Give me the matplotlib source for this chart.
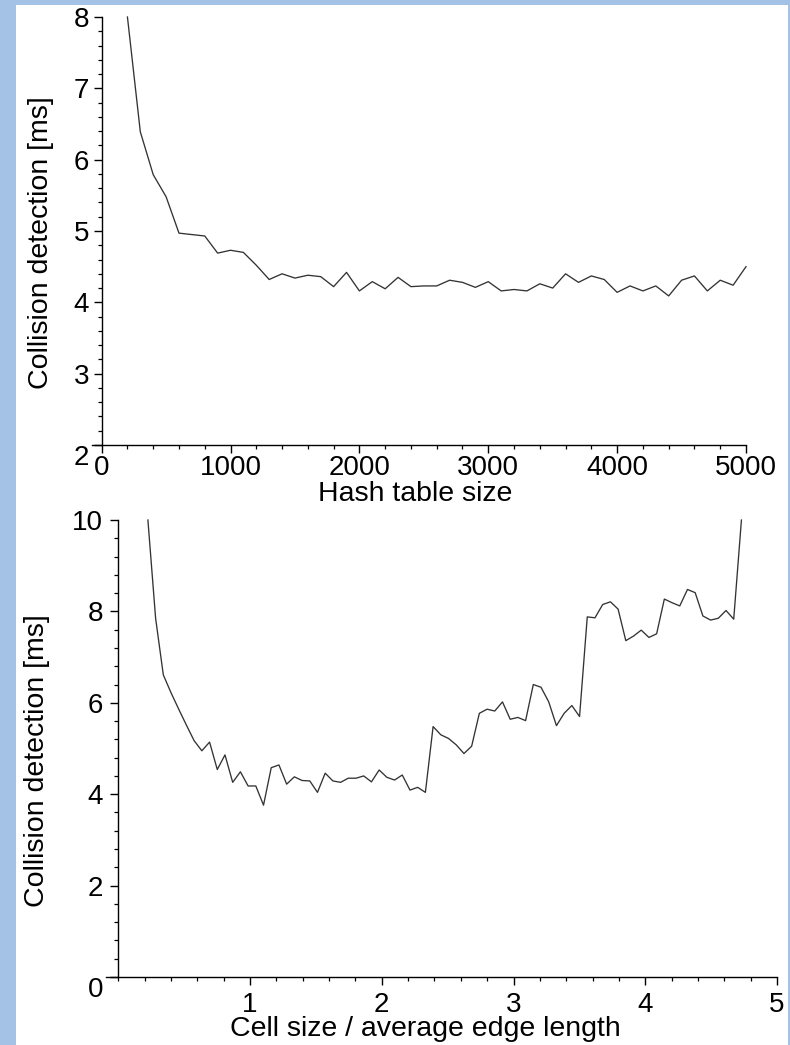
import matplotlib

matplotlib.use("Agg")
import matplotlib.pyplot as plt
import numpy as np
from matplotlib.patches import Rectangle
from matplotlib.ticker import MultipleLocator

# top panel: collision detection time vs hash table size
HASH_SIZE = list(range(200, 5001, 100))
HASH_TIME = [
    8.0, 6.39, 5.79, 5.48, 4.97, 4.95, 4.93, 4.69, 4.73, 4.70,
    4.52, 4.32, 4.40, 4.34, 4.38, 4.36, 4.22, 4.42, 4.16, 4.29,
    4.19, 4.35, 4.22, 4.23, 4.23, 4.31, 4.28, 4.21, 4.29, 4.16,
    4.18, 4.16, 4.26, 4.20, 4.40, 4.28, 4.37, 4.32, 4.14, 4.23,
    4.16, 4.23, 4.09, 4.31, 4.37, 4.16, 4.31, 4.24, 4.50,
]

# bottom panel: collision detection time vs cell size / average edge length
CELL_TIME = [
    10.0, 7.85, 6.61, 6.22, 5.86, 5.51, 5.17, 4.95, 5.14, 4.54,
    4.86, 4.26, 4.49, 4.18, 4.18, 3.76, 4.58, 4.64, 4.22, 4.38,
    4.30, 4.29, 4.04, 4.46, 4.29, 4.26, 4.35, 4.35, 4.40, 4.27,
    4.53, 4.37, 4.31, 4.42, 4.09, 4.15, 4.04, 5.48, 5.30, 5.22,
    5.08, 4.89, 5.05, 5.77, 5.86, 5.82, 6.02, 5.64, 5.68, 5.61,
    6.40, 6.34, 6.02, 5.50, 5.77, 5.94, 5.70, 7.88, 7.86, 8.15,
    8.21, 8.05, 7.36, 7.46, 7.59, 7.43, 7.51, 8.27, 8.19, 8.12,
    8.48, 8.41, 7.90, 7.81, 7.85, 8.02, 7.83, 10.0,
]
CELL_SIZE = np.linspace(0.225, 4.73, len(CELL_TIME))

HASH_XTICKS = [0, 1000, 2000, 3000, 4000, 5000]
HASH_YTICKS = [2, 3, 4, 5, 6, 7, 8]
CELL_XTICKS = [1, 2, 3, 4, 5]
CELL_YTICKS = [0, 2, 4, 6, 8, 10]

YLABEL = "Collision detection [ms]"

plt.rcParams["font.family"] = ["Liberation Sans", "DejaVu Sans"]
W, H = 790, 1045
TICK_FS = 20
LABEL_FS = 20.5


def style(ax, xpad, ypad):
    for side in ("top", "right"):
        ax.spines[side].set_visible(False)
    ax.spines["left"].set_position(("data", 0))
    for side in ("left", "bottom"):
        ax.spines[side].set_linewidth(1.0)
    ax.tick_params(which="major", direction="out", length=5.5, width=1.0, labelsize=TICK_FS)
    ax.tick_params(which="minor", direction="out", length=3, width=0.9)
    ax.tick_params(axis="x", pad=xpad)
    ax.tick_params(axis="y", pad=ypad)
    ax.set_facecolor("white")


fig = plt.figure(figsize=(W / 100, H / 100), dpi=100, facecolor="#a4c2e6")
fig.add_artist(
    Rectangle(
        (16 / W, 0), (788 - 16) / W, 1 - 5 / H,
        transform=fig.transFigure, facecolor="white", edgecolor="none", zorder=0,
    )
)

# top axes
ax = fig.add_axes([92 / W, 1 - 445 / H, (746 - 92) / W, (445 - 17) / H])
ax.plot(HASH_SIZE, HASH_TIME, color="#333333", linewidth=0.95, clip_on=False)
ax.set_xlim(-75, 5000)
ax.set_ylim(2, 8)
ax.set_xticks(HASH_XTICKS)
ax.set_yticks(HASH_YTICKS)
ax.xaxis.set_minor_locator(MultipleLocator(200))
ax.yaxis.set_minor_locator(MultipleLocator(0.2))
style(ax, 1.5, 3.5)
ax.yaxis.get_major_ticks()[0].label1.set_verticalalignment("top")
ax.set_xlabel("Hash table size", fontsize=LABEL_FS)
ax.xaxis.set_label_coords(0.494, -0.084)
ax.set_ylabel(YLABEL, fontsize=LABEL_FS)
ax.yaxis.set_label_coords(-0.058, 0.472)

# bottom axes
ax = fig.add_axes([106.4 / W, 1 - 977 / H, (777 - 106.4) / W, (977 - 520) / H])
ax.plot(CELL_SIZE, CELL_TIME, color="#333333", linewidth=0.95, clip_on=False)
ax.set_xlim(-0.09, 5)
ax.set_ylim(0, 10)
ax.set_xticks(CELL_XTICKS)
ax.set_yticks(CELL_YTICKS)
ax.xaxis.set_minor_locator(MultipleLocator(0.2))
ax.yaxis.set_minor_locator(MultipleLocator(0.4))
style(ax, 5, 5.5)
ax.yaxis.get_major_ticks()[0].label1.set_verticalalignment("top")
ax.set_xlabel("Cell size / average edge length", fontsize=LABEL_FS)
ax.xaxis.set_label_coords(0.475, -0.085)
ax.set_ylabel(YLABEL, fontsize=LABEL_FS)
ax.yaxis.set_label_coords(-0.084, 0.473)

fig.savefig("out.png", dpi=100, facecolor=fig.get_facecolor())
